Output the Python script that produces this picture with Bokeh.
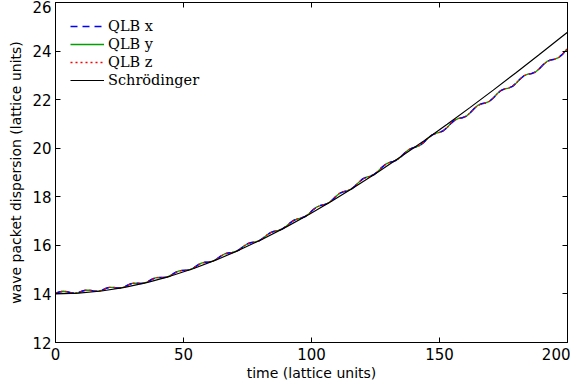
from bokeh.plotting import figure
from bokeh.models import Range1d, LinearAxis, FixedTicker, Legend, LegendItem, Title
from bokeh.embed import file_html
from bokeh.resources import INLINE

# ---- data ----
time_qlb = [k * 1.5 for k in range(134)] + [200.0]
qlb_x = [
    14.025, 14.080, 14.110, 14.090, 14.045, 14.025,
    14.055, 14.120, 14.160, 14.151, 14.116, 14.106,
    14.146, 14.221, 14.270, 14.270, 14.245, 14.244,
    14.294, 14.378, 14.438, 14.447, 14.431, 14.441,
    14.500, 14.594, 14.662, 14.681, 14.674, 14.693,
    14.761, 14.863, 14.940, 14.968, 14.970, 14.997,
    15.074, 15.184, 15.269, 15.305, 15.315, 15.350,
    15.435, 15.553, 15.645, 15.688, 15.706, 15.748,
    15.841, 15.966, 16.065, 16.115, 16.140, 16.189,
    16.289, 16.420, 16.526, 16.583, 16.614, 16.670,
    16.776, 16.913, 17.025, 17.087, 17.124, 17.186,
    17.303, 17.456, 17.578, 17.641, 17.673, 17.736,
    17.858, 18.015, 18.142, 18.210, 18.247, 18.314,
    18.441, 18.603, 18.735, 18.807, 18.848, 18.920,
    19.052, 19.213, 19.344, 19.414, 19.455, 19.525,
    19.656, 19.815, 19.945, 20.014, 20.053, 20.123,
    20.252, 20.411, 20.541, 20.610, 20.649, 20.719,
    20.853, 21.024, 21.159, 21.225, 21.256, 21.321,
    21.457, 21.629, 21.765, 21.832, 21.864, 21.930,
    22.067, 22.240, 22.377, 22.445, 22.478, 22.545,
    22.683, 22.851, 22.984, 23.047, 23.075, 23.138,
    23.271, 23.440, 23.573, 23.637, 23.665, 23.729,
    23.862, 24.043, 24.092,
]
qlb_y = list(qlb_x)
qlb_z = list(qlb_x)

time_s = [0, 9, 18, 27, 36, 45, 54, 63, 72, 81, 90, 99, 108, 117, 126,
          135, 144, 153, 162, 171, 180, 189, 198, 200]
schrodinger = [14.000, 14.030, 14.121, 14.269, 14.475, 14.736, 15.049, 15.410,
               15.816, 16.264, 16.751, 17.273, 17.828, 18.411, 19.022, 19.656,
               20.312, 20.988, 21.682, 22.392, 23.118, 23.856, 24.607, 24.775]

x_ticks = [0, 50, 100, 150, 200]
y_ticks = [12, 14, 16, 18, 20, 22, 24, 26]
labels = ["QLB x", "QLB y", "QLB z", "Schrödinger"]
x_title = "time (lattice units)"
y_title = "wave packet dispersion (lattice units)"

# ---- figure ----
p = figure(width=570, height=380, output_backend="svg", toolbar_location=None,
           x_range=Range1d(0, 200), y_range=Range1d(12, 26),
           min_border_left=55, min_border_right=3, min_border_top=2,
           min_border_bottom=0)
p.background_fill_color = "white"
p.border_fill_color = "white"
p.outline_line_color = "black"
p.outline_line_width = 1
p.xgrid.visible = False
p.ygrid.visible = False

sans = "DejaVu Sans"

def style_axis(ax, ticks, show_labels=True):
    ax.ticker = FixedTicker(ticks=ticks)
    ax.axis_line_color = "black"
    ax.major_tick_line_color = "black"
    ax.major_tick_in = 5
    ax.major_tick_out = 0
    ax.minor_tick_line_color = None
    ax.major_label_text_font = sans
    ax.major_label_text_font_size = "15px"
    ax.major_label_text_color = "black"
    ax.major_label_standoff = 2
    if not show_labels:
        ax.major_label_overrides = {t: "" for t in ticks}
        ax.major_label_text_font_size = "0px"
        ax.major_label_standoff = 0

style_axis(p.xaxis[0], x_ticks)
style_axis(p.yaxis[0], y_ticks)
p.xaxis[0].major_label_standoff = 5
p.yaxis[0].major_label_standoff = 4
p.yaxis[0].axis_label = y_title
p.yaxis[0].axis_label_text_font = sans
p.yaxis[0].axis_label_text_font_size = "14px"
p.yaxis[0].axis_label_text_font_style = "normal"
p.yaxis[0].axis_label_text_color = "black"
p.yaxis[0].axis_label_standoff = 5

# x-axis title as a bottom title under the tick labels
p.add_layout(Title(text=x_title, align="center", text_font=sans,
                   text_font_size="14px", text_font_style="normal",
                   text_color="black", standoff=0, offset=0), "below")

top = LinearAxis()
style_axis(top, x_ticks, show_labels=False)
p.add_layout(top, "above")
right = LinearAxis()
style_axis(right, y_ticks, show_labels=False)
p.add_layout(right, "right")

# ---- lines ----
r_y = p.line(time_qlb, qlb_y, line_color="#00a000", line_width=1.3)
r_x = p.line(time_qlb, qlb_x, line_color="#0000ff", line_width=1.5, line_dash="7 5")
r_z = p.line(time_qlb, qlb_z, line_color="#ff0000", line_width=1.3, line_dash="2 3")
r_s = p.line(time_s, schrodinger, line_color="black", line_width=1.2)

legend = Legend(items=[
    LegendItem(label=labels[0], renderers=[r_x]),
    LegendItem(label=labels[1], renderers=[r_y]),
    LegendItem(label=labels[2], renderers=[r_z]),
    LegendItem(label=labels[3], renderers=[r_s]),
])
legend.location = (15, 254)
legend.margin = 0
legend.padding = 0
legend.spacing = 2
legend.glyph_width = 34
legend.glyph_height = 16
legend.label_height = 16
legend.label_standoff = 4
legend.label_text_font = "DejaVu Serif"
legend.label_text_font_size = "14.5px"
legend.label_text_color = "black"
legend.border_line_color = None
legend.background_fill_alpha = 0
p.add_layout(legend)

open("out.html", "w").write(file_html(p, INLINE))
